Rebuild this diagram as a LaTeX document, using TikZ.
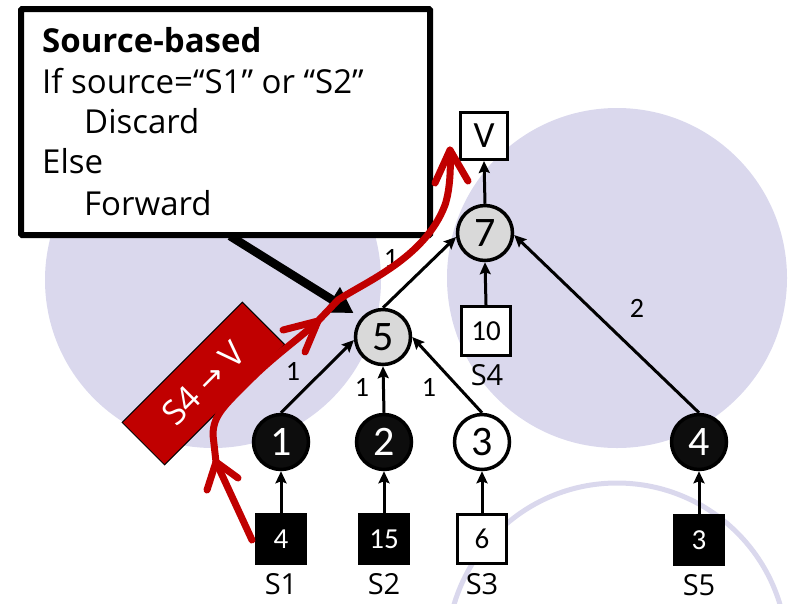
\documentclass[tikz,border=0pt]{standalone}
\usepackage{fontspec}
\setmainfont{Open Sans}
\newfontfamily\numfont{Carlito}
\newfontfamily\symfont{DejaVu Sans}
\usetikzlibrary{arrows.meta,calc}

\definecolor{lav}{HTML}{DAD8ED}
\definecolor{nodegray}{HTML}{D9D9D9}
\definecolor{pathred}{HTML}{C00000}

\tikzset{
  router/.style={circle, draw=black, line width=3.5pt, minimum size=55pt, inner sep=0pt,
    font=\numfont\fontsize{42}{42}\selectfont},
  blackrouter/.style={router, fill=black!95, text=white},
  whiterouter/.style={router, fill=white},
  grayrouter/.style={router, fill=nodegray},
  srcbox/.style={rectangle, draw=black, line width=3pt, minimum size=49pt, inner sep=0pt,
    font=\numfont\fontsize{29}{29}\selectfont},
  blacksrc/.style={srcbox, fill=black, text=white},
  whitesrc/.style={srcbox, fill=white},
  link/.style={line width=3pt, -{Stealth[length=12pt,width=11pt,inset=2pt]}},
  weight/.style={font=\numfont\fontsize{28}{28}\selectfont, inner sep=0pt},
  srcname/.style={font=\fontsize{29}{29}\selectfont, inner sep=0pt},
  ruletext/.style={anchor=base west, inner sep=0pt, font=\fontsize{33}{33}\selectfont},
  redtrail/.style={draw=pathred, line width=7pt, line cap=round, line join=round},
}

\begin{document}
\begin{tikzpicture}[x=1pt, y=-1pt]
\useasboundingbox (0,0) rectangle (791,603);

% shaded regions
\begin{scope}
  \clip (0,0) rectangle (791,603);
  \fill[lav] (213,280) circle[radius=168];
  \fill[lav] (617,278) circle[radius=170];
  \draw[lav, line width=5pt] (617,653) circle[radius=170];
\end{scope}

% rule box
\node[draw=black, line width=6pt, fill=white, rectangle, rounded corners=1pt,
      minimum width=409pt, minimum height=226pt, inner sep=0pt] (callout) at (225.5,122) {};
\node[ruletext, font=\bfseries\fontsize{33}{33}\selectfont] (t1) at (42,52) {Source-based};
\node[ruletext] (t2) at (42,93) {If source=“S1” or “S2”};
\node[ruletext] (t3) at (84,133) {Discard};
\node[ruletext] (t4) at (42,173) {Else};
\node[ruletext] (t5) at (84,215) {Forward};

% routers and sources
\node[grayrouter] (n5) at (383,337) {5};
\node[grayrouter] (n7) at (485,233) {7};
\node[blackrouter] (n1) at (281,442) {1};
\node[blackrouter] (n2) at (384,442) {2};
\node[whiterouter] (n3) at (482,442) {3};
\node[blackrouter] (n4) at (699,442) {4};

\node[whitesrc, minimum size=47pt, font=\numfont\fontsize{37}{37}\selectfont] (v) at (484,136) {V};
\node[whitesrc] (b10) at (486,331) {10};
\node[blacksrc] (b1) at (281,539) {4};
\node[blacksrc] (b2) at (384,539) {15};
\node[whitesrc] (b3) at (482,539) {6};
\node[blacksrc] (b5) at (699,540) {3};

\node[srcname] (l4) at (487,375) {S4};
\node[srcname] (l1) at (281,584) {S1};
\node[srcname] (l2) at (384,584) {S2};
\node[srcname] (l3) at (482,584) {S3};
\node[srcname] (l5) at (699,585) {S5};

% links
\draw[link] (b1.north) -- (n1.south);
\draw[link] (b2.north) -- (n2.south);
\draw[link] (b3.north) -- (n3.south);
\draw[link] (b5.north) -- (n4.south);
\draw[link] (n1.north) -- (n5.186);
\draw[link] (n2.north) -- (n5.south);
\draw[link] (n3.north) -- (n5.east);
\draw[link] (n5.north) -- (n7.188);
\draw[link] (b10.north) -- (n7.south);
\draw[link] (n4.north) -- (n7.356);
\draw[link] (n7.north) -- (v.south);

% link weights
\node[weight] (w15) at (293,371) {1};
\node[weight] (w25) at (362,387) {1};
\node[weight] (w35) at (429,387) {1};
\node[weight] (w57) at (391,258) {1};
\node[weight] (w47) at (637,308) {2};

% pointer from the rule box to router 5
\coordinate (ptrstart) at (230,236);
\coordinate (ptrtip) at ($(n5.center)!1.31!(n5.141)$);
\coordinate (ptrbase) at ($(ptrtip)!25pt!(ptrstart)$);
\begin{scope}[shift={(3,4)}, black, opacity=0.2]
  \draw[line width=8.5pt] (ptrstart) -- (ptrbase);
  \fill (ptrtip) -- ($(ptrbase)!15pt!90:(ptrtip)$) -- ($(ptrbase)!15pt!-90:(ptrtip)$) -- cycle;
\end{scope}
\draw[black, line width=8.5pt] (ptrstart) -- ($(ptrbase)!1pt!(ptrtip)$);
\fill[black] (ptrtip) -- ($(ptrbase)!15pt!90:(ptrtip)$) -- ($(ptrbase)!15pt!-90:(ptrtip)$) -- cycle;

% flow tag
\node[rectangle, rotate=45, fill=pathred, draw=black, line width=1pt,
      minimum width=170pt, minimum height=60pt, inner sep=0pt, text=white,
      font=\fontsize{34}{34}\selectfont] (tag) at (203.5,383.5)
      {S4 {\symfont\fontsize{30}{30}\selectfont →} V};

% path of the S4 -> V flow
\coordinate (r0) at (252,540);
\coordinate (r1) at (216,462);
\coordinate (r2) at (318,321);
\coordinate (r3) at (450,150);
\draw[redtrail] (r0) -- (r1) -- (213,435)
  .. controls (213,415) and (225,405) .. (250,380)
  .. controls (275,355) and (300,338) .. (r2)
  -- (338,300)
  .. controls (365,282) and (425,258) .. (445,205)
  .. controls (450,190) and (451,168) .. (r3);
\draw[redtrail] (207,490) -- (r1) -- (238,478);
\draw[redtrail] (283,330) -- (r2) -- (305,352);
\draw[redtrail] (435,183) -- (r3) -- (468,181);

\end{tikzpicture}
\end{document}
